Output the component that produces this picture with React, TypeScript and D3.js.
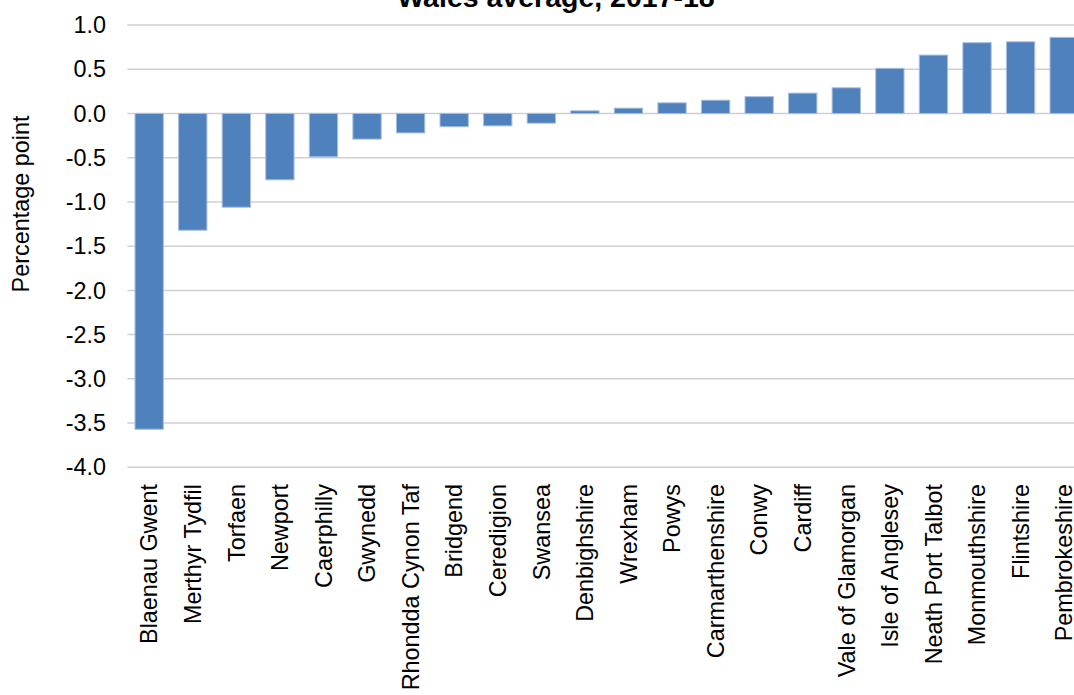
import React from "react";
import * as d3 from "d3";

const categories = [
  "Blaenau Gwent", "Merthyr Tydfil", "Torfaen", "Newport", "Caerphilly", "Gwynedd",
  "Rhondda Cynon Taf", "Bridgend", "Ceredigion", "Swansea", "Denbighshire", "Wrexham",
  "Powys", "Carmarthenshire", "Conwy", "Cardiff", "Vale of Glamorgan", "Isle of Anglesey",
  "Neath Port Talbot", "Monmouthshire", "Flintshire", "Pembrokeshire",
];
const values = [
  -3.57, -1.32, -1.06, -0.75, -0.49, -0.29, -0.22, -0.15, -0.14, -0.11, 0.03, 0.06,
  0.12, 0.15, 0.19, 0.23, 0.29, 0.51, 0.66, 0.8, 0.81, 0.86,
];
const yTicks = [1.0, 0.5, 0.0, -0.5, -1.0, -1.5, -2.0, -2.5, -3.0, -3.5, -4.0];
const title = "Wales average, 2017-18";
const yTitle = "Percentage point";

const W = 1074;
const H = 695;
const FONT = "'Liberation Sans', Arial, sans-serif";

export default function App() {
  const x = d3.scaleBand<string>().domain(categories).range([127.4, 127.4 + 22 * 43.57]).paddingInner(0.35).paddingOuter(0.175);
  const y = d3.scaleLinear().domain([-4, 1]).range([467.3, 25]);
  const bw = x.bandwidth();
  const fmt = (t: number) => d3.format(".1f")(t).replace("\u2212", "-");
  return (
    <svg width={W} height={H} style={{ position: "absolute", left: 0, top: 0, background: "#fff" }}>
      <text x={556} y={7} textAnchor="middle" fontFamily={FONT} fontWeight="bold" fontSize={28.5} fill="#000">
        {title}
      </text>
      {yTicks.map((t) => (
        <g key={t}>
          <line x1={127.4} x2={W} y1={y(t)} y2={y(t)} stroke="#d0d0d0" strokeWidth={1.5} />
          <text x={106} y={y(t)} dy="0.35em" textAnchor="end" fontFamily={FONT} fontSize={23.4} fill="#000">
            {fmt(t)}
          </text>
        </g>
      ))}
      {categories.map((c, i) => {
        const v = values[i];
        const y0 = y(Math.max(0, v));
        const y1 = y(Math.min(0, v));
        return (
          <rect key={c} x={x(c)} y={y0} width={bw} height={y1 - y0} fill="#4F81BD" stroke="#a6bfe0" strokeWidth={1} />
        );
      })}
      {categories.map((c) => {
        const cx = (x(c) as number) + bw / 2;
        return (
          <text key={c} transform={`translate(${cx},484) rotate(-90)`} dy="0.35em" textAnchor="end" fontFamily={FONT} fontSize={23.4} fill="#000">
            {c}
          </text>
        );
      })}
      <text transform={`translate(21,204) rotate(-90)`} dy="0.35em" textAnchor="middle" fontFamily={FONT} fontSize={23.4} fill="#000">
        {yTitle}
      </text>
    </svg>
  );
}
